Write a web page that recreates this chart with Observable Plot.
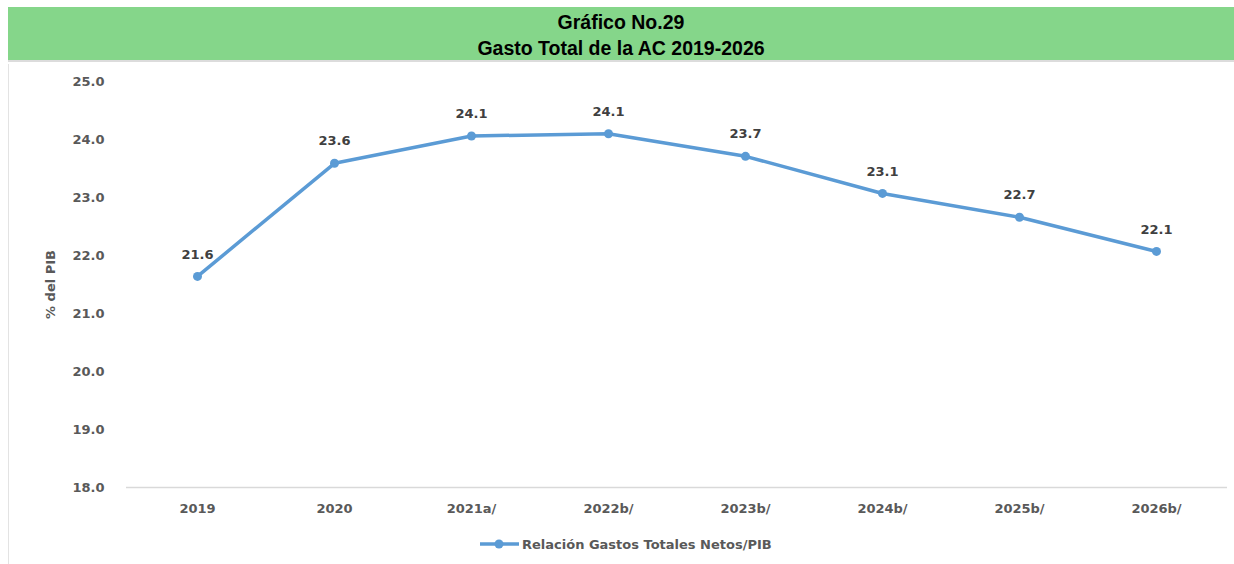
<!DOCTYPE html>
<html>
<head>
<meta charset="utf-8">
<script src="https://cdn.jsdelivr.net/npm/d3@7"></script>
<script src="https://cdn.jsdelivr.net/npm/@observablehq/plot@0.6"></script>
<style>
  html, body { margin: 0; padding: 0; background: #fff; width: 1234px; height: 564px; overflow: hidden; }
  #header { position: absolute; left: 8px; top: 7px; width: 1226px; height: 55px; background: #85D68A; border-bottom: 2px solid #dcdcdc;
    font-family: "Liberation Sans Narrow", "Liberation Sans", Arial, sans-serif; font-weight: bold; font-size: 19.5px; color: #000; text-align: center; line-height: 26px; padding-top: 2px; box-sizing: border-box; }
  #leftline { position: absolute; left: 8px; top: 64px; width: 1px; height: 500px; background: #e3e3e3; }
  #chart { position: absolute; left: 0; top: 62px; }
  #legend { position: absolute; left: 480px; top: 535px; height: 18px; display: flex; align-items: center;
    font-family: "DejaVu Sans", sans-serif; font-weight: bold; font-size: 13px; color: #595959; }
</style>
</head>
<body>
<div id="header">Gráfico No.29<br>Gasto Total de la AC 2019-2026</div>
<div id="leftline"></div>
<div id="chart"></div>
<div id="legend"></div>
<script>
const categories = ["2019", "2020", "2021a/", "2022b/", "2023b/", "2024b/", "2025b/", "2026b/"];
const values = [21.64, 23.59, 24.06, 24.10, 23.71, 23.07, 22.66, 22.07];
const yTicks = [18, 19, 20, 21, 22, 23, 24, 25];
const seriesName = "Relación Gastos Totales Netos/PIB";
const yLabel = "% del PIB";

const data = categories.map((c, i) => ({cat: c, value: values[i]}));
const blue = "#5B9BD5";
const font = "'DejaVu Sans', sans-serif";

const chart = Plot.plot({
  width: 1234,
  height: 470,
  marginLeft: 126,
  marginRight: 7,
  marginTop: 19,
  marginBottom: 45,
  style: {fontFamily: font, fontWeight: "bold", fontSize: "13px", color: "#595959", background: "transparent"},
  x: {type: "point", domain: categories, padding: 0.5},
  y: {domain: [18, 25]},
  marks: [
    Plot.axisY({ticks: yTicks, tickFormat: d3.format(".1f"), tickSize: 0, tickPadding: 22,
      label: yLabel, labelAnchor: "center", labelArrow: "none", labelOffset: 81, fill: "#595959"}),
    Plot.axisX({tickSize: 0, tickPadding: 16, label: null, fill: "#595959"}),
    Plot.ruleY([18], {stroke: "#d9d9d9", strokeWidth: 1.5}),
    Plot.line(data, {x: "cat", y: "value", stroke: blue, strokeWidth: 3.5}),
    Plot.dot(data, {x: "cat", y: "value", r: 4.5, fill: blue}),
    Plot.text(data, {x: "cat", y: "value", text: d => d.value.toFixed(1), dy: -22,
      fill: "#404040", fontWeight: "bold", fontSize: 13})
  ]
});
document.getElementById("chart").appendChild(chart);

// legend
const leg = document.getElementById("legend");
leg.innerHTML = `<svg width="40" height="12" style="margin-right:2px"><line x1="0" y1="6" x2="39" y2="6" stroke="${blue}" stroke-width="3.5"/><circle cx="19" cy="6" r="4.5" fill="${blue}"/></svg><span>${seriesName}</span>`;
</script>
</body>
</html>
